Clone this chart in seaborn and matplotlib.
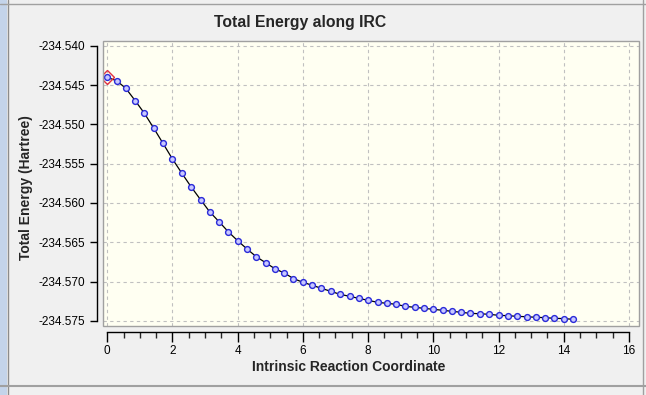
import numpy as np
import pandas as pd
import matplotlib
matplotlib.use("Agg")
import matplotlib.pyplot as plt
import seaborn as sns
from matplotlib.lines import Line2D
from matplotlib.patches import Rectangle
from matplotlib.ticker import MultipleLocator, FormatStrFormatter

# IRC points
irc = [0, 0.29, 0.57, 0.86, 1.14, 1.43, 1.71, 2.00, 2.29, 2.57,
       2.86, 3.14, 3.43, 3.71, 4.00, 4.29, 4.57, 4.86, 5.14, 5.43,
       5.71, 6.00, 6.29, 6.57, 6.86, 7.14, 7.43, 7.71, 8.00, 8.29,
       8.57, 8.86, 9.14, 9.43, 9.71, 10.00, 10.29, 10.57, 10.86, 11.14,
       11.43, 11.71, 12.00, 12.29, 12.57, 12.86, 13.14, 13.43, 13.71, 14.00,
       14.29]
energy = [-234.54402, -234.54445, -234.54542, -234.54700, -234.54860,
          -234.55051, -234.55242, -234.55441, -234.55623, -234.55794,
          -234.55957, -234.56112, -234.56239, -234.56366, -234.56481,
          -234.56587, -234.56684, -234.56761, -234.56837, -234.56892,
          -234.56962, -234.57010, -234.57048, -234.57087, -234.57125,
          -234.57163, -234.57188, -234.57214, -234.57239, -234.57265,
          -234.57277, -234.57290, -234.57316, -234.57328, -234.57341,
          -234.57354, -234.57366, -234.57379, -234.57392, -234.57405,
          -234.57410, -234.57417, -234.57430, -234.57435, -234.57443,
          -234.57448, -234.57455, -234.57460, -234.57468, -234.57472,
          -234.57481]
df = pd.DataFrame({"irc": irc, "energy": energy})

sns.set_style("white")
plt.rcParams['font.family'] = ['Liberation Sans', 'DejaVu Sans']

fig = plt.figure(figsize=(6.46, 3.95), dpi=100, facecolor="#f0f0f0")
ax = fig.add_axes([102.7 / 646, 69 / 395, 536 / 646, 285.3 / 395])
ax.set_facecolor("#fffff2")

sns.lineplot(data=df, x="irc", y="energy", ax=ax, color="black", linewidth=0.9,
             marker="o", markersize=4.2, markerfacecolor="#c8c8ff",
             markeredgecolor="#2a2ad8", markeredgewidth=1.0, zorder=3)
ax.plot(irc[0], energy[0], marker="D", markersize=7.5, markerfacecolor="none",
        markeredgecolor="#e03040", markeredgewidth=1.0, zorder=5)

ax.set_xlim(-0.14, 16.3)
ax.set_ylim(-234.57566, -234.53935)
ax.grid(True, color="#c0c0c0", linestyle=(0, (3, 3)), linewidth=0.8)
ax.set_xlabel("")
ax.set_ylabel("")

# gray frame of the plot area
ax.add_patch(Rectangle((0, 0), 1, 1, transform=ax.transAxes, fill=False,
                       edgecolor="#a0a0a0", linewidth=1.0, clip_on=False, zorder=6))

# detached axes lines
ax.spines["top"].set_visible(False)
ax.spines["right"].set_visible(False)
ax.spines["left"].set_position(("outward", 4))
ax.spines["left"].set_bounds(-234.575, -234.540)
ax.spines["bottom"].set_position(("outward", 4))
ax.spines["bottom"].set_bounds(0, 16)
for side in ["left", "bottom"]:
    ax.spines[side].set_color("black")
    ax.spines[side].set_linewidth(1.0)

ax.yaxis.set_major_locator(MultipleLocator(0.005))
ax.yaxis.set_major_formatter(FormatStrFormatter("%.3f"))
ax.xaxis.set_major_locator(MultipleLocator(2))
ax.xaxis.set_minor_locator(MultipleLocator(0.5))
ax.tick_params(axis="y", left=True, direction="out", length=5, width=1, pad=4,
               labelsize=8.5, colors="black")
ax.tick_params(axis="x", which="major", bottom=True, direction="out", length=7,
               width=1, pad=3, labelsize=8.5, colors="black")
ax.tick_params(axis="x", which="minor", bottom=True, direction="out",
               length=4.5, width=1)

fig.text(300 / 646, 1 - 22 / 395, "Total Energy along IRC", ha="center",
         va="center", fontsize=11.3, fontweight="bold")
fig.text(349 / 646, 1 - 367 / 395, "Intrinsic Reaction Coordinate",
         ha="center", va="center", fontsize=10, fontweight="bold")
fig.text(26 / 646, 1 - 188 / 395, "Total Energy (Hartree)", ha="center",
         va="center", rotation=90, fontsize=10, fontweight="bold")

# window frame around the chart
fig.add_artist(Rectangle((0, 0), 7 / 646, 1, transform=fig.transFigure,
                         facecolor="#c4d4ea", edgecolor="none"))
fig.add_artist(Line2D([8 / 646, 8 / 646], [0, 1], transform=fig.transFigure,
                      color="#8c8c8c", linewidth=1))
fig.add_artist(Line2D([0, 1], [1 - 3.5 / 395, 1 - 3.5 / 395],
                      transform=fig.transFigure, color="#a0a0a0", linewidth=1))
fig.add_artist(Line2D([0, 1], [1 - 386 / 395, 1 - 386 / 395],
                      transform=fig.transFigure, color="#a0a0a0", linewidth=1.5))
fig.add_artist(Line2D([643 / 646, 643 / 646], [0, 1], transform=fig.transFigure,
                      color="#a0a0a0", linewidth=1))

fig.savefig("out.png", dpi=100, facecolor=fig.get_facecolor())
